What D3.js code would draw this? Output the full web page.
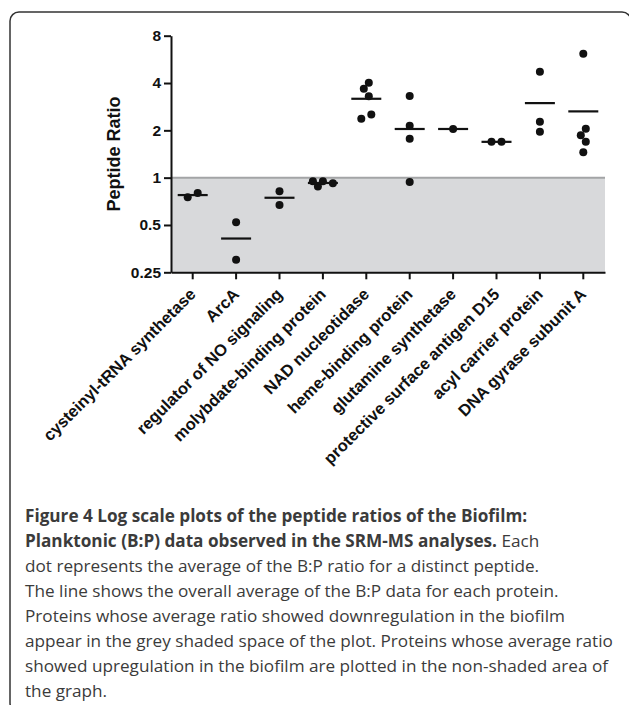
<!DOCTYPE html>
<html>
<head>
<meta charset="utf-8">
<script src="https://cdn.jsdelivr.net/npm/d3@7"></script>
<style>
  body { margin: 0; background: #fff; }
  svg { display: block; }
</style>
</head>
<body>
<div id="chart"></div>
<script>
// proteins on the x axis
const categories = [
  "cysteinyl-tRNA synthetase", "ArcA", "regulator of NO signaling",
  "molybdate-binding protein", "NAD nucleotidase", "heme-binding protein",
  "glutamine synthetase", "protective surface antigen D15",
  "acyl carrier protein", "DNA gyrase subunit A"
];
// B:P ratio of each peptide, one list per protein
const peptideRatios = [
  [0.75, 0.80],
  [0.52, 0.30],
  [0.82, 0.67],
  [0.95, 0.88, 0.92, 0.95],
  [4.02, 3.68, 3.29, 2.37, 2.52],
  [3.31, 2.14, 1.77, 0.94],
  [2.04],
  [1.69, 1.69],
  [4.71, 2.27, 1.96],
  [6.15, 2.05, 1.86, 1.69, 1.45]
];
const yTicks = [0.25, 0.5, 1, 2, 4, 8];
const shadeBelow = 1;

const captionLines = [
  [["Figure 4 Log scale plots of the peptide ratios of the Biofilm:", true]],
  [["Planktonic (B:P) data observed in the SRM-MS analyses.", true], [" Each", false]],
  [["dot represents the average of the B:P ratio for a distinct peptide.", false]],
  [["The line shows the overall average of the B:P data for each protein.", false]],
  [["Proteins whose average ratio showed downregulation in the biofilm", false]],
  [["appear in the grey shaded space of the plot. Proteins whose average ratio", false]],
  [["showed upregulation in the biofilm are plotted in the non-shaded area of", false]],
  [["the graph.", false]]
];

const WIDTH = 629, HEIGHT = 705;
const FONT = "'Liberation Sans', Arial, Helvetica, sans-serif";

const svg = d3.select("#chart").append("svg")
    .attr("width", WIDTH)
    .attr("height", HEIGHT);

// frame round the figure (runs off the right and bottom edges)
svg.append("rect")
    .attr("x", 10).attr("y", 12)
    .attr("width", 621).attr("height", 700)
    .attr("rx", 9)
    .attr("fill", "none")
    .attr("stroke", "#333")
    .attr("stroke-width", 1.5);

const x = d3.scaleBand().domain(categories).range([171, 605]);
const y = d3.scaleLog().base(2).domain([0.25, 8]).range([272.3, 35.7]);

// grey area for downregulated proteins
svg.append("rect")
    .attr("x", x.range()[0])
    .attr("y", y(shadeBelow))
    .attr("width", x.range()[1] - x.range()[0])
    .attr("height", y(0.25) - y(shadeBelow))
    .attr("fill", "#d8d9db");
svg.append("line")
    .attr("x1", x.range()[0]).attr("x2", x.range()[1])
    .attr("y1", y(shadeBelow)).attr("y2", y(shadeBelow))
    .attr("stroke", "#a3a4a6")
    .attr("stroke-width", 2);

// y axis
const yAxis = svg.append("g")
    .attr("transform", `translate(${x.range()[0]},0)`)
    .call(d3.axisLeft(y).tickValues(yTicks).tickFormat(d => String(d))
        .tickSize(7).tickSizeOuter(0).tickPadding(3));
yAxis.selectAll("text")
    .style("font-family", FONT).style("font-size", "15.5px").style("font-weight", "bold")
    .attr("fill", "#111");

// x axis
const xAxis = svg.append("g")
    .attr("transform", `translate(0,${y(0.25)})`)
    .call(d3.axisBottom(x).tickSize(7).tickSizeOuter(0));
xAxis.selectAll("text")
    .attr("x", 0).attr("y", 0).attr("dy", 0)
    .attr("text-anchor", "end")
    .attr("transform", "translate(4,23) rotate(-45)")
    .style("font-family", FONT).style("font-size", "16.5px").style("font-weight", "bold")
    .attr("fill", "#111");

svg.selectAll(".domain, .tick line")
    .attr("stroke", "#111")
    .attr("stroke-width", 2);

svg.append("text")
    .attr("transform", `translate(120,${(y(8) + y(0.25)) / 2}) rotate(-90)`)
    .attr("text-anchor", "middle")
    .style("font-family", FONT).style("font-size", "18px").style("font-weight", "bold")
    .attr("fill", "#111")
    .text("Peptide Ratio");

// spread overlapping dots sideways, like a small beeswarm
function dodge(values) {
  const step = 5, minDist = 7;
  const pts = values.map(v => ({ v: v, py: y(v), dx: 0 }))
      .sort((a, b) => a.py - b.py);
  const clusters = [];
  pts.forEach((p, i) => {
    if (i && p.py - pts[i - 1].py < 9) clusters[clusters.length - 1].push(p);
    else clusters.push([p]);
  });
  clusters.forEach(cl => {
    const placed = [];
    cl.forEach(p => {
      for (let k = 0; k < 12; k++) {
        const off = k === 0 ? 0 : (k % 2 ? -1 : 1) * Math.ceil(k / 2) * step;
        if (placed.every(q => Math.hypot(q.dx - off, q.py - p.py) >= minDist)) {
          p.dx = off;
          break;
        }
      }
      placed.push(p);
    });
    const mid = (d3.min(cl, p => p.dx) + d3.max(cl, p => p.dx)) / 2;
    cl.forEach(p => p.dx -= mid);
  });
  return pts;
}

const groups = svg.append("g").selectAll("g")
    .data(categories.map((c, i) => ({ name: c, values: peptideRatios[i] })))
    .join("g")
    .attr("transform", d => `translate(${x(d.name) + x.bandwidth() / 2},0)`);

groups.selectAll("circle")
    .data(d => dodge(d.values))
    .join("circle")
    .attr("cx", d => d.dx)
    .attr("cy", d => d.py)
    .attr("r", 4)
    .attr("fill", "#111");

// mean of each protein
groups.append("line")
    .attr("x1", -15).attr("x2", 15)
    .attr("y1", d => y(d3.mean(d.values)))
    .attr("y2", d => y(d3.mean(d.values)))
    .attr("stroke", "#111")
    .attr("stroke-width", 2.2);

// caption
const CAP_FONT = "'Open Sans', 'Noto Sans', sans-serif";
const caption = svg.append("g").attr("fill", "#3b3b3b")
    .style("font-family", CAP_FONT);
const capTexts = caption.selectAll("text")
    .data(captionLines)
    .join("text")
    .attr("x", 25)
    .attr("y", (d, i) => 521.7 + i * 25)
    .style("font-size", "16px");
capTexts.selectAll("tspan")
    .data(d => d)
    .join("tspan")
    .style("font-weight", d => d[1] ? "bold" : "normal")
    .text(d => d[0]);

// fit the caption to the width seen in the figure
const longest = capTexts.filter((d, i) => i === 5).node().getComputedTextLength();
capTexts.style("font-size", (16 * 588 / longest) + "px");
</script>
</body>
</html>
